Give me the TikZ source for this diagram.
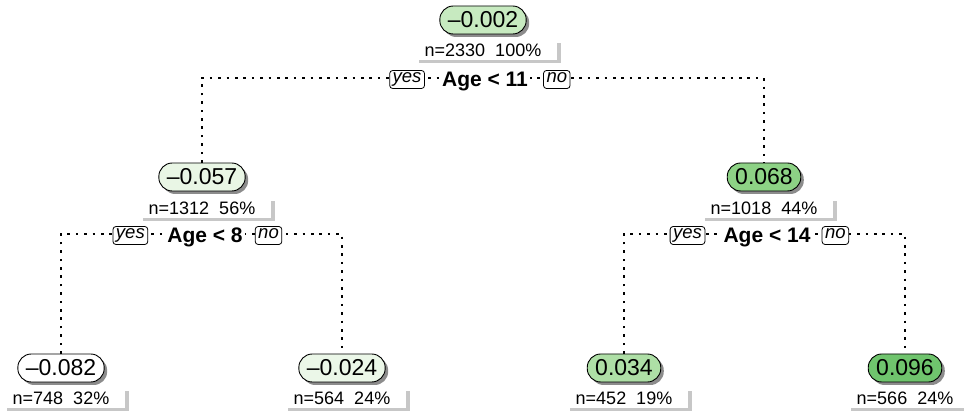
\documentclass[tikz,border=0pt]{standalone}
\usepackage{fontspec}
\setmainfont{Liberation Sans}
\usetikzlibrary{shadows,calc}
\definecolor{cA}{HTML}{C7EAC0}
\definecolor{cB}{HTML}{E9F6E5}
\definecolor{cC}{HTML}{8DD285}
\definecolor{cD}{HTML}{FFFFFF}
\definecolor{cE}{HTML}{EBF7E8}
\definecolor{cF}{HTML}{AEDFA6}
\definecolor{cG}{HTML}{6FC46D}
\tikzset{
  valbox/.style={draw=black, line width=0.9pt, rounded corners=13.5pt, minimum height=28pt,
    inner xsep=8pt, inner ysep=0pt, font=\fontsize{23}{26}\selectfont,
    drop shadow={shadow xshift=3pt, shadow yshift=-3pt, fill=black!45, opacity=1}},
  nlab/.style={fill=white, inner xsep=10pt, inner ysep=0pt, minimum height=20pt,
    font=\fontsize{18}{20}\selectfont,
    drop shadow={shadow xshift=4pt, shadow yshift=-3pt, fill=black!22, opacity=1}},
  splitlab/.style={fill=white, inner xsep=2pt, inner ysep=1pt, anchor=base,
    font=\bfseries\fontsize{21}{24}\selectfont},
  yn/.style={draw=black, fill=white, line width=0.8pt, rounded corners=3pt,
    inner xsep=3pt, inner ysep=1.5pt, text height=10.5pt, text depth=4.5pt,
    font=\itshape\fontsize{18.5}{20}\selectfont},
  dotline/.style={line width=2.6pt, line cap=butt, dash pattern=on 2.6pt off 5.8pt},
}
\begin{document}
\begin{tikzpicture}[x=1pt,y=-1pt]
\useasboundingbox (0,0) rectangle (964,411);
% split line coordinates
\coordinate (k1) at (483,78);
\coordinate (k2) at (202,234);
\coordinate (k3) at (764,234);
% value nodes
\node[valbox, fill=cA] (n1) at (483,20) {–0.002};
\node[valbox, fill=cB] (n2) at (202,177) {–0.057};
\node[valbox, fill=cC] (n3) at (764,177) {0.068};
\node[valbox, fill=cD] (n4) at (61,368) {–0.082};
\node[valbox, fill=cE] (n5) at (342,368) {–0.024};
\node[valbox, fill=cF] (n6) at (624,368) {0.034};
\node[valbox, fill=cG] (n7) at (905,368) {0.096};
% dotted connectors
\draw[dotline] (n2.north) |- (k1) -| (n3.north);
\draw[dotline] (n4.north) |- (k2) -| (n5.north);
\draw[dotline] (n6.north) |- (k3) -| (n7.north);
% count labels
\node[nlab] (l1) at (486,50) {n=2330\ \ 100\%\kern6pt};
\node[nlab] (l2) at (205,208) {n=1312\ \ 56\%\kern6pt};
\node[nlab] (l3) at (767,208) {n=1018\ \ 44\%\kern6pt};
\node[nlab] (l4) at (64,398) {n=748\ \ 32\%\kern6pt};
\node[nlab] (l5) at (345,398) {n=564\ \ 24\%\kern6pt};
\node[nlab] (l6) at (627,398) {n=452\ \ 19\%\kern6pt};
\node[nlab] (l7) at (908,398) {n=566\ \ 24\%\kern6pt};
% split labels
\node[splitlab] (s1) at (485,87) {Age < 11};
\node[splitlab] (s2) at (205,243) {Age < 8};
\node[splitlab] (s3) at (767,243) {Age < 14};
\node[yn, anchor=east] (y1) at ($(s1.west |- k1)+(-15,1.5)$) {yes};
\node[yn, anchor=west] (o1) at ($(s1.east |- k1)+(13,1.5)$) {no};
\node[yn, anchor=east] (y2) at ($(s2.west |- k2)+(-17,1.5)$) {yes};
\node[yn, anchor=west] (o2) at ($(s2.east |- k2)+(10,1.5)$) {no};
\node[yn, anchor=east] (y3) at ($(s3.west |- k3)+(-16,1.5)$) {yes};
\node[yn, anchor=west] (o3) at ($(s3.east |- k3)+(9,1.5)$) {no};
\end{tikzpicture}
\end{document}
